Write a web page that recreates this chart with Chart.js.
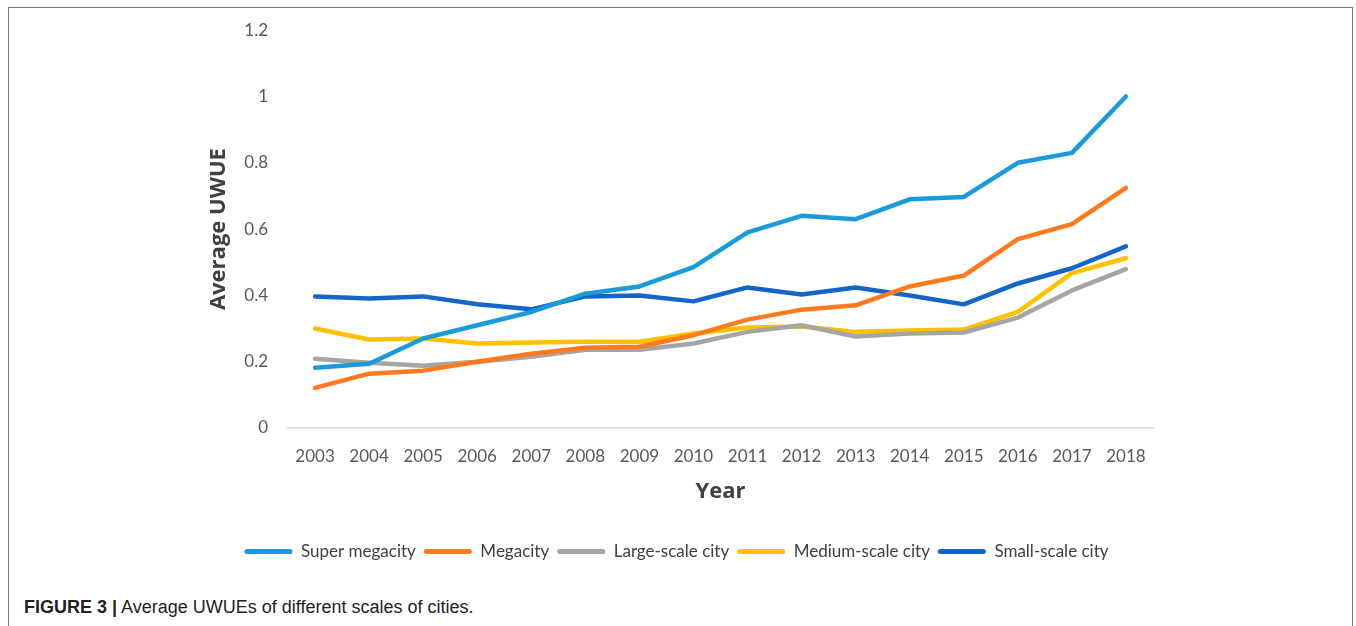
<!DOCTYPE html>
<html>
<head>
<meta charset="utf-8">
<script src="https://cdn.jsdelivr.net/npm/chart.js@4"></script>
<style>
  html, body { margin: 0; padding: 0; background: #fff; overflow: hidden; }
  body { width: 1356px; height: 626px; position: relative; }
  .frame { position: absolute; left: 8px; top: 7px; width: 1343px; height: 660px; border: 1px solid #777; }
  #wrap { position: absolute; left: 0; top: 0; width: 1356px; height: 580px; }
  .caption { position: absolute; left: 24px; top: 597px; font-family: "Liberation Sans", Arial, sans-serif; font-size: 18px; color: #222; }
  .caption b { font-weight: bold; }
</style>
</head>
<body>
<div class="frame"></div>
<div id="wrap"><canvas id="chart" width="1356" height="580"></canvas></div>
<div class="caption"><b>FIGURE 3 |</b> Average UWUEs of different scales of cities.</div>
<script>
const years = ['2003', '2004', '2005', '2006', '2007', '2008', '2009', '2010',
  '2011', '2012', '2013', '2014', '2015', '2016', '2017', '2018'];

const superMegacity = [0.182, 0.194, 0.27, 0.31, 0.35, 0.405, 0.427, 0.485, 0.59, 0.64, 0.63, 0.69, 0.697, 0.80, 0.83, 1.0];
const megacity = [0.121, 0.164, 0.173, 0.2, 0.224, 0.242, 0.245, 0.28, 0.327, 0.357, 0.37, 0.427, 0.46, 0.57, 0.615, 0.724];
const largeScale = [0.209, 0.197, 0.188, 0.2, 0.215, 0.236, 0.236, 0.255, 0.29, 0.31, 0.276, 0.285, 0.288, 0.333, 0.415, 0.479];
const mediumScale = [0.30, 0.267, 0.27, 0.255, 0.258, 0.26, 0.26, 0.285, 0.303, 0.306, 0.29, 0.294, 0.297, 0.35, 0.467, 0.512];
const smallScale = [0.397, 0.391, 0.397, 0.373, 0.358, 0.397, 0.40, 0.382, 0.424, 0.403, 0.424, 0.40, 0.373, 0.436, 0.482, 0.548];

const seriesNames = ['Super megacity', 'Megacity', 'Large-scale city', 'Medium-scale city', 'Small-scale city'];
const seriesColors = ['#1a9ad8', '#ff7a1e', '#a5a5a5', '#ffc000', '#1565c8'];
const yTicks = [0, 0.2, 0.4, 0.6, 0.8, 1, 1.2];
const yTickLabels = ['0', '0.2', '0.4', '0.6', '0.8', '1', '1.2'];

const tickFont = { family: 'Lato, "Open Sans", sans-serif', size: 17 };
const titleFont = { family: '"Open Sans", Lato, sans-serif', size: 22, weight: 'bold' };

const allData = [superMegacity, megacity, largeScale, mediumScale, smallScale];
const datasets = allData.map((d, i) => ({
  label: seriesNames[i],
  data: d,
  borderColor: seriesColors[i],
  backgroundColor: seriesColors[i],
  borderWidth: 4.5,
  pointRadius: 0,
  tension: 0,
  borderCapStyle: 'round',
  borderJoinStyle: 'round',
}));

new Chart(document.getElementById('chart'), {
  type: 'line',
  data: { labels: years, datasets },
  options: {
    responsive: false,
    animation: false,
    layout: { padding: { left: 200, right: 203, top: 22, bottom: 10 } },
    plugins: {
      tooltip: { enabled: false },
      legend: {
        position: 'bottom',
        labels: {
          boxWidth: 48,
          boxHeight: 5,
          useBorderRadius: true,
          borderRadius: 2.5,
          padding: 8,
          color: '#404040',
          font: tickFont,
          // thin swatch only, no stroke around it
          generateLabels: (chart) => Chart.defaults.plugins.legend.labels.generateLabels(chart)
            .map(item => ({ ...item, lineWidth: 0 })),
        },
      },
    },
    scales: {
      x: {
        offset: true,
        grid: { display: false, drawTicks: false },
        border: { display: true, color: '#d9d9d9', width: 1.5 },
        ticks: { color: '#595959', font: tickFont, padding: 18, maxRotation: 0 },
        title: { display: true, text: 'Year', color: '#404040', font: titleFont, padding: { top: 0, bottom: 30 } },
        afterFit: (s) => { s.height = 107; },
      },
      y: {
        min: 0,
        max: 1.2,
        afterBuildTicks: (s) => { s.ticks = yTicks.map(v => ({ value: v })); },
        grid: { display: false, drawTicks: false },
        border: { display: false },
        ticks: {
          color: '#595959',
          font: tickFont,
          padding: 20,
          callback: (v) => yTickLabels[yTicks.indexOf(v)] ?? String(v),
        },
        title: { display: true, text: 'Average UWUE', color: '#404040', font: titleFont, padding: { top: 6, bottom: 0 } },
        afterFit: (s) => { s.width = 88; },
      },
    },
  },
});
</script>
</body>
</html>
